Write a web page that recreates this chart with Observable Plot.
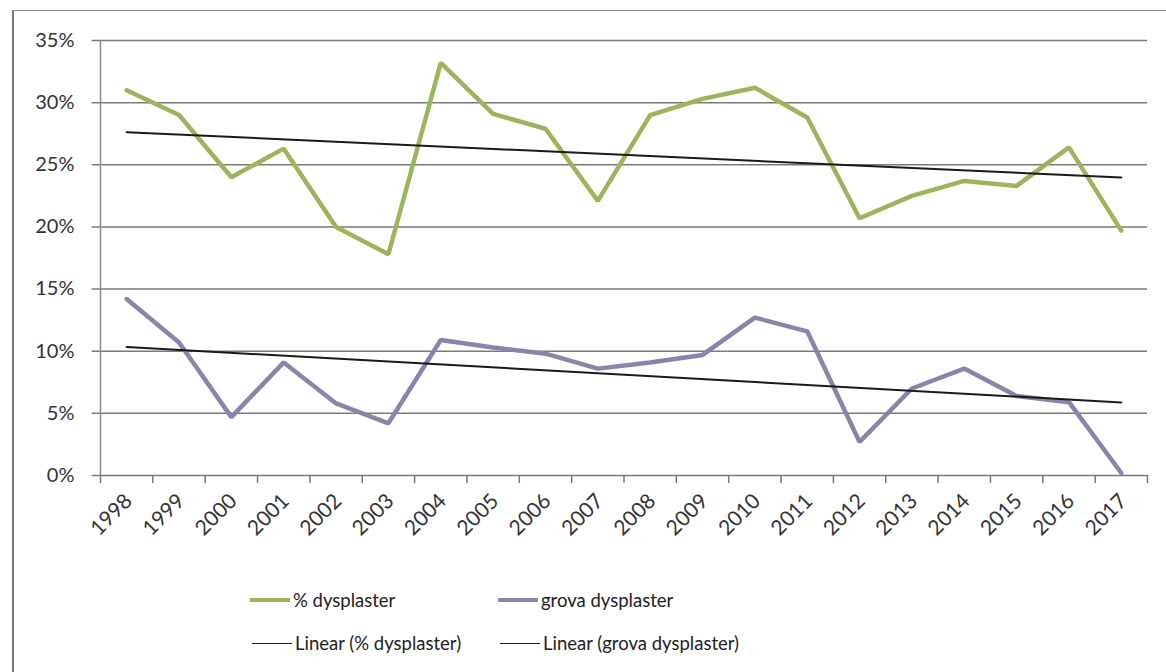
<!DOCTYPE html>
<html>
<head>
<meta charset="utf-8">
<script src="https://cdn.jsdelivr.net/npm/d3@7"></script>
<script src="https://cdn.jsdelivr.net/npm/@observablehq/plot@0.6"></script>
<style>
  html, body { margin: 0; padding: 0; background: #fff; }
  #wrap { position: relative; width: 1166px; height: 672px; font-family: Lato, "Open Sans", sans-serif; color: #222; overflow: hidden; }
  #frame { position: absolute; left: 12px; top: 10px; width: 1200px; height: 700px; border-top: 1.5px solid #8a8a8a; border-left: 2px solid #777; box-sizing: border-box; }
  #chart { position: absolute; left: 0; top: 0; }
  .legend { position: absolute; font-size: 18.5px; display: flex; align-items: center; white-space: nowrap; }
  .sw { display: inline-block; width: 40px; margin-right: 3px; }
</style>
</head>
<body>
<div id="wrap">
  <div id="frame"></div>
  <div id="chart"></div>
</div>
<script>
const years = [1998,1999,2000,2001,2002,2003,2004,2005,2006,2007,2008,2009,2010,2011,2012,2013,2014,2015,2016,2017];
const dysplaster = [31.0,29.0,24.0,26.3,20.0,17.8,33.2,29.1,27.9,22.1,29.0,30.3,31.2,28.8,20.7,22.5,23.7,23.3,26.4,19.7];
const grova = [14.2,10.7,4.7,9.1,5.8,4.2,10.9,10.3,9.8,8.6,9.1,9.7,12.7,11.6,2.7,7.0,8.6,6.4,5.9,0.2];
const yTicks = [0,0.05,0.10,0.15,0.20,0.25,0.30,0.35];
const seriesNames = ["% dysplaster", "grova dysplaster", "Linear (% dysplaster)", "Linear (grova dysplaster)"];
const green = "#9cb55c";
const purple = "#8785ad";

const dataA = years.map((y, i) => ({year: y, v: dysplaster[i] / 100}));
const dataB = years.map((y, i) => ({year: y, v: grova[i] / 100}));
const boundaries = d3.range(years[0] - 0.5, years[years.length - 1] + 1, 1);

const chart = Plot.plot({
  width: 1166,
  height: 545,
  marginLeft: 100,
  marginRight: 19,
  marginTop: 40,
  marginBottom: 70,
  style: {fontFamily: "Lato, 'Open Sans', sans-serif", fontSize: "18px", color: "#222", background: "transparent", overflow: "visible"},
  x: {type: "linear", domain: [years[0] - 0.5, years[years.length - 1] + 0.5]},
  y: {domain: [0, 0.35]},
  marks: [
    Plot.gridY(yTicks, {stroke: "#7a7a7a", strokeOpacity: 1, strokeWidth: 1.5, x1: years[0] - 0.5 - 0.16, x2: years[years.length - 1] + 0.5}),
    Plot.ruleX([years[0] - 0.5], {y1: 0, y2: 0.35, stroke: "#888", strokeWidth: 1.5}),
    Plot.axisY(yTicks, {tickFormat: d => Math.round(d * 100) + "%", tickSize: 0, tickPadding: 26, fill: "#333", fontSize: 20, label: null}),
    Plot.axisX(boundaries, {text: null, tickSize: 8, stroke: "#777", strokeWidth: 1.5, label: null}),
    Plot.axisX(years, {tickSize: 0, tickRotate: -45, tickPadding: 14, tickFormat: d => String(d), label: null, fill: "#333", fontSize: 21, textAnchor: "end", dx: 2, dy: 8}),
    Plot.line(dataA, {x: "year", y: "v", stroke: green, strokeWidth: 4.5, strokeLinejoin: "miter"}),
    Plot.line(dataB, {x: "year", y: "v", stroke: purple, strokeWidth: 4.5, strokeLinejoin: "miter"}),
    Plot.linearRegressionY(dataA, {x: "year", y: "v", ci: 0, stroke: "#1a1a1a", strokeWidth: 2}),
    Plot.linearRegressionY(dataB, {x: "year", y: "v", ci: 0, stroke: "#1a1a1a", strokeWidth: 2})
  ]
});
document.getElementById("chart").appendChild(chart);

const legendItems = [
  {name: seriesNames[0], color: green, w: 4, left: 250, top: 589},
  {name: seriesNames[1], color: purple, w: 4, left: 498, top: 589},
  {name: seriesNames[2], color: "#1a1a1a", w: 1.5, left: 252, top: 632},
  {name: seriesNames[3], color: "#1a1a1a", w: 1.5, left: 500, top: 632}
];
const wrap = document.getElementById("wrap");
for (const it of legendItems) {
  const d = document.createElement("div");
  d.className = "legend";
  d.style.left = it.left + "px";
  d.style.top = it.top + "px";
  const sw = document.createElement("span");
  sw.className = "sw";
  sw.style.borderTop = it.w + "px solid " + it.color;
  d.appendChild(sw);
  const t = document.createElement("span");
  t.textContent = it.name;
  d.appendChild(t);
  wrap.appendChild(d);
}
</script>
</body>
</html>
